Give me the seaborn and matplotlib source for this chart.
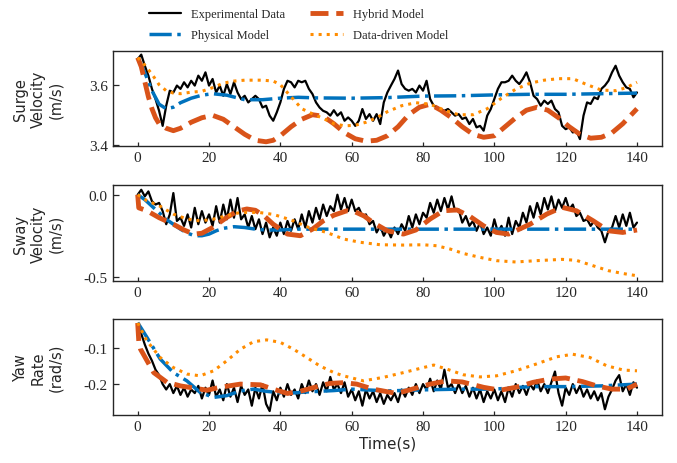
import seaborn as sns
import matplotlib
matplotlib.use("Agg")
import matplotlib.pyplot as plt

# Measured run, one sample per second
time_exp = list(range(0, 141))

surge_exp = [3.685, 3.700, 3.663, 3.630, 3.586, 3.552, 3.513, 3.463, 3.530, 3.580,
             3.574, 3.597, 3.586, 3.608, 3.591, 3.613, 3.597, 3.630, 3.613, 3.641,
             3.597, 3.619, 3.574, 3.597, 3.563, 3.602, 3.569, 3.608, 3.574, 3.552,
             3.563, 3.541, 3.552, 3.563, 3.552, 3.524, 3.530, 3.497, 3.480, 3.508,
             3.541, 3.586, 3.613, 3.608, 3.591, 3.613, 3.608, 3.613, 3.586, 3.569,
             3.541, 3.524, 3.513, 3.508, 3.497, 3.515, 3.497, 3.508, 3.480, 3.491,
             3.480, 3.463, 3.480, 3.519, 3.486, 3.502, 3.480, 3.502, 3.469, 3.541,
             3.574, 3.597, 3.619, 3.647, 3.602, 3.586, 3.580, 3.586, 3.574, 3.597,
             3.580, 3.613, 3.552, 3.530, 3.524, 3.519, 3.513, 3.519, 3.508, 3.497,
             3.502, 3.486, 3.491, 3.469, 3.486, 3.458, 3.463, 3.447, 3.497, 3.519,
             3.552, 3.586, 3.608, 3.608, 3.613, 3.630, 3.613, 3.602, 3.619, 3.641,
             3.608, 3.563, 3.552, 3.530, 3.547, 3.536, 3.547, 3.519, 3.508, 3.463,
             3.452, 3.458, 3.441, 3.447, 3.419, 3.497, 3.541, 3.536, 3.558, 3.552,
             3.586, 3.597, 3.613, 3.641, 3.663, 3.630, 3.608, 3.591, 3.586, 3.558,
             3.574]

sway_exp = [0.0, 0.03, -0.01, 0.02, -0.04, -0.06, -0.05, -0.1, -0.18, -0.12,
            0.01, -0.16, -0.14, -0.19, -0.12, -0.2, -0.08, -0.18, -0.1, -0.17,
            -0.12, -0.19, -0.07, -0.17, -0.06, -0.15, -0.03, -0.14, -0.02, -0.15,
            -0.12, -0.2, -0.13, -0.21, -0.15, -0.24, -0.17, -0.26, -0.2, -0.25,
            -0.17, -0.24, -0.16, -0.22, -0.15, -0.21, -0.12, -0.2, -0.1, -0.17,
            -0.08, -0.15, -0.06, -0.13, -0.07, -0.1, 0.0, -0.09, -0.02, -0.1,
            -0.03, -0.1, -0.08, -0.13, -0.12, -0.18, -0.16, -0.23, -0.19, -0.25,
            -0.21, -0.26, -0.2, -0.24, -0.18, -0.22, -0.13, -0.2, -0.12, -0.18,
            -0.11, -0.14, -0.05, -0.11, -0.03, -0.1, -0.02, -0.09, -0.01, -0.1,
            -0.09, -0.17, -0.13, -0.19, -0.16, -0.22, -0.17, -0.24, -0.2, -0.25,
            -0.15, -0.23, -0.19, -0.25, -0.14, -0.24, -0.16, -0.2, -0.11, -0.17,
            -0.07, -0.14, -0.05, -0.12, -0.02, -0.09, -0.01, -0.1, -0.03, -0.08,
            -0.02, -0.09, -0.06, -0.13, -0.11, -0.16, -0.15, -0.19, -0.16, -0.2,
            -0.22, -0.29, -0.22, -0.2, -0.13, -0.2, -0.12, -0.19, -0.11, -0.2,
            -0.17]

yaw_exp = [-0.035, -0.06, -0.09, -0.115, -0.135, -0.16, -0.175, -0.2, -0.215, -0.2,
           -0.225, -0.205, -0.23, -0.21, -0.235, -0.215, -0.225, -0.205, -0.24, -0.21,
           -0.23, -0.19, -0.235, -0.215, -0.245, -0.2, -0.235, -0.21, -0.25, -0.205,
           -0.23, -0.215, -0.26, -0.21, -0.24, -0.2, -0.255, -0.275, -0.22, -0.245,
           -0.21, -0.235, -0.2, -0.23, -0.215, -0.24, -0.2, -0.225, -0.19, -0.22,
           -0.2, -0.23, -0.195, -0.22, -0.18, -0.215, -0.2, -0.225, -0.195, -0.235,
           -0.215, -0.245, -0.22, -0.26, -0.215, -0.24, -0.22, -0.25, -0.225, -0.255,
           -0.23, -0.245, -0.225, -0.25, -0.215, -0.235, -0.21, -0.23, -0.2, -0.225,
           -0.2, -0.215, -0.185, -0.22, -0.19, -0.215, -0.16, -0.21, -0.2, -0.225,
           -0.2, -0.225, -0.205, -0.235, -0.21, -0.24, -0.215, -0.25, -0.22, -0.24,
           -0.215, -0.245, -0.22, -0.25, -0.21, -0.235, -0.2, -0.225, -0.205, -0.23,
           -0.2, -0.215, -0.19, -0.22, -0.2, -0.225, -0.195, -0.165, -0.225, -0.26,
           -0.21, -0.23, -0.2, -0.225, -0.205, -0.235, -0.215, -0.24, -0.22, -0.245,
           -0.225, -0.27, -0.235, -0.215, -0.19, -0.175, -0.22, -0.2, -0.23, -0.195,
           -0.21]

# Physical model
surge_phys_t = [0, 2, 4, 6, 8, 10, 12, 15, 18, 21, 25, 30, 35, 40, 45, 50, 60, 70,
                80, 90, 100, 110, 120, 130, 140]
surge_phys = [3.69, 3.64, 3.58, 3.535, 3.52, 3.525, 3.54, 3.555, 3.565, 3.57, 3.565,
              3.55, 3.55, 3.555, 3.558, 3.556, 3.555, 3.557, 3.562, 3.563, 3.566,
              3.568, 3.568, 3.57, 3.572]
sway_phys_t = [0, 2, 4, 6, 8, 10, 12, 14, 16, 18, 20, 22, 24, 27, 30, 33, 36, 40, 45,
               50, 60, 80, 100, 120, 140]
sway_phys = [0.0, -0.03, -0.07, -0.11, -0.15, -0.18, -0.21, -0.235, -0.25, -0.25,
             -0.24, -0.22, -0.205, -0.195, -0.2, -0.21, -0.215, -0.215, -0.21, -0.21,
             -0.21, -0.21, -0.21, -0.21, -0.21]
yaw_phys_t = [0, 2.6, 6.3, 10, 13.8, 17.5, 21.3, 25, 28.8, 32.5, 36, 41.8, 47, 55,
              60, 70, 80, 90, 100, 110, 120, 130, 140]
yaw_phys = [-0.029, -0.07, -0.13, -0.168, -0.191, -0.223, -0.237, -0.232, -0.219,
            -0.214, -0.22, -0.226, -0.222, -0.218, -0.214, -0.219, -0.216, -0.214,
            -0.214, -0.207, -0.207, -0.205, -0.2]

# Hybrid model
surge_hyb_t = [0, 1, 2, 3, 4, 5, 6, 8, 10, 12, 15, 18, 21, 24, 27, 30, 33, 36, 38,
               40, 43, 46, 49, 52, 55, 58, 61, 64, 67, 70, 73, 76, 79, 82, 85, 88,
               91, 94, 97, 100, 103, 106, 109, 112, 115, 118, 121, 124, 127, 130,
               133, 136, 140]
surge_hyb = [3.69, 3.66, 3.61, 3.56, 3.52, 3.49, 3.47, 3.455, 3.447, 3.455, 3.475,
             3.49, 3.498, 3.485, 3.46, 3.435, 3.415, 3.41, 3.415, 3.43, 3.46, 3.485,
             3.5, 3.495, 3.47, 3.44, 3.42, 3.412, 3.415, 3.43, 3.46, 3.5, 3.525,
             3.535, 3.515, 3.49, 3.46, 3.435, 3.425, 3.43, 3.46, 3.49, 3.515, 3.525,
             3.515, 3.49, 3.46, 3.435, 3.422, 3.425, 3.44, 3.47, 3.52]
sway_hyb_t = [0, 0.3, 2.6, 6, 10, 13, 15.7, 18, 21, 25, 28, 30.6, 33, 35.5, 38, 42,
              45.6, 49, 52, 55, 58.6, 61, 63.5, 66, 70, 74.5, 78, 82, 85.7, 89.5, 93,
              97, 100.6, 104, 107, 110, 114.7, 119, 123, 127.7, 132, 136, 140]
sway_hyb = [0.0, -0.08, -0.098, -0.14, -0.18, -0.215, -0.24, -0.235, -0.2, -0.138,
            -0.1, -0.087, -0.095, -0.13, -0.18, -0.24, -0.25, -0.21, -0.16, -0.125,
            -0.098, -0.105, -0.13, -0.17, -0.22, -0.24, -0.215, -0.148, -0.098,
            -0.093, -0.13, -0.19, -0.23, -0.24, -0.21, -0.18, -0.118, -0.077, -0.098,
            -0.159, -0.22, -0.23, -0.215]
yaw_hyb_t = [0, 0.3, 0.8, 4.5, 8.2, 12, 15.7, 19.4, 23, 28.8, 34.4, 38, 42, 45.6, 51,
             54, 57.7, 61.4, 66, 72.6, 77, 82, 86.6, 91, 97, 101.6, 106, 110.9, 115.6,
             120, 124.7, 128.7, 133, 137, 140]
yaw_hyb = [-0.03, -0.08, -0.103, -0.168, -0.195, -0.205, -0.211, -0.217, -0.209, -0.2,
           -0.202, -0.214, -0.226, -0.22, -0.205, -0.198, -0.196, -0.2, -0.214, -0.226,
           -0.214, -0.2, -0.191, -0.194, -0.209, -0.217, -0.209, -0.195, -0.186,
           -0.183, -0.193, -0.205, -0.214, -0.214, -0.2]

# Data-driven model
surge_dd_t = [0, 2, 4, 6, 8, 10, 12, 15, 18, 21, 24, 27, 30, 35, 38, 40, 43, 46, 49,
              52, 55, 58, 61, 64, 67, 70, 74, 78, 82, 86, 90, 94, 98, 102, 106, 110,
              114, 118, 122, 126, 130, 134, 137, 140]
surge_dd = [3.69, 3.665, 3.635, 3.6, 3.58, 3.572, 3.57, 3.575, 3.578, 3.59, 3.605,
            3.612, 3.615, 3.615, 3.612, 3.6, 3.56, 3.52, 3.503, 3.488, 3.47, 3.463,
            3.465, 3.475, 3.49, 3.51, 3.53, 3.54, 3.535, 3.515, 3.5, 3.5, 3.52, 3.555,
            3.585, 3.605, 3.615, 3.62, 3.62, 3.6, 3.582, 3.58, 3.59, 3.608]
sway_dd_t = [0, 2.6, 6, 10, 13.8, 17.5, 21, 25, 28.8, 34, 38, 41, 43.7, 48, 53, 57.7,
             62.4, 68, 74.5, 80, 83.8, 87.6, 91.3, 96, 100.6, 106, 111.8, 119, 123,
             127.7, 132, 136, 140]
sway_dd = [0.0, -0.037, -0.067, -0.118, -0.148, -0.16, -0.15, -0.128, -0.108, -0.108,
           -0.12, -0.14, -0.16, -0.2, -0.23, -0.27, -0.29, -0.305, -0.307, -0.305,
           -0.311, -0.331, -0.358, -0.382, -0.402, -0.41, -0.402, -0.394, -0.4,
           -0.433, -0.463, -0.48, -0.494]
yaw_dd_t = [0, 2.6, 6.3, 10, 13.8, 17.5, 21.3, 25, 28.8, 32.5, 36.2, 40, 43.7, 47.4,
            51, 55, 57.7, 63.3, 69, 74.5, 80.1, 83, 86.6, 91.3, 96, 100.6, 106, 111.8,
            117.5, 122, 126.8, 131.5, 136.2, 140]
yaw_dd = [-0.03, -0.08, -0.126, -0.154, -0.172, -0.177, -0.163, -0.135, -0.103,
          -0.082, -0.077, -0.084, -0.103, -0.126, -0.149, -0.168, -0.177, -0.191,
          -0.181, -0.168, -0.154, -0.147, -0.158, -0.174, -0.18, -0.177, -0.163,
          -0.144, -0.124, -0.117, -0.126, -0.149, -0.161, -0.163]

labels = ['Experimental Data', 'Physical Model', 'Hybrid Model', 'Data-driven Model']
ylabels = ['Surge\nVelocity\n(m/s)', 'Sway\nVelocity\n(m/s)', 'Yaw\nRate\n(rad/s)']
yticks = [[3.4, 3.6], [-0.5, 0.0], [-0.2, -0.1]]
ylims = [(3.396, 3.712), (-0.526, 0.059), (-0.286, -0.019)]

panels = [
    [(time_exp, surge_exp), (surge_phys_t, surge_phys), (surge_hyb_t, surge_hyb), (surge_dd_t, surge_dd)],
    [(time_exp, sway_exp), (sway_phys_t, sway_phys), (sway_hyb_t, sway_hyb), (sway_dd_t, sway_dd)],
    [(time_exp, yaw_exp), (yaw_phys_t, yaw_phys), (yaw_hyb_t, yaw_hyb), (yaw_dd_t, yaw_dd)],
]

# Styling
sns.set_style('ticks', {'axes.edgecolor': '.15'})
plt.rcParams['font.family'] = ['Liberation Serif', 'DejaVu Serif']
plt.rcParams['axes.unicode_minus'] = False

styles = [
    dict(color='black', linewidth=1.6, linestyle='-'),
    dict(color='#0072BD', linewidth=2.5, linestyle='-.'),
    dict(color='#D95319', linewidth=3.5, linestyle='--'),
    dict(color='#FF8C00', linewidth=2.2, linestyle=':'),
]

fig = plt.figure(figsize=(6.77, 4.64), dpi=100)
rects = [[0.1665, 0.6832, 0.8113, 0.2047],
         [0.1665, 0.3922, 0.8113, 0.2069],
         [0.1665, 0.1034, 0.8113, 0.2069]]

axes = []
for i, rect in enumerate(rects):
    ax = fig.add_axes(rect)
    for (t, y), lab, st in zip(panels[i], labels, styles):
        sns.lineplot(x=t, y=y, ax=ax, estimator=None, sort=False, legend=False,
                     label=lab, **st)
    ax.set_xlim(-7, 147)
    ax.set_ylim(*ylims[i])
    ax.set_xticks([0, 20, 40, 60, 80, 100, 120, 140])
    ax.set_yticks(yticks[i])
    ax.tick_params(direction='in', width=0.9, labelsize=11, pad=3.5)
    ax.tick_params(axis='y', length=4)
    ax.tick_params(axis='x', length=3)
    for sp in ax.spines.values():
        sp.set_linewidth(1.0)
    ax.set_ylabel(ylabels[i], fontfamily='DejaVu Sans', fontsize=10.5)
    ax.yaxis.set_label_coords(-0.09, 0.5)
    ax.set_xlabel('')
    axes.append(ax)

axes[-1].set_xlabel('Time(s)', fontfamily='DejaVu Sans', fontsize=11, labelpad=2)

handles, labs = axes[0].get_legend_handles_labels()
fig.legend(handles, labs, ncol=2, loc='upper left', bbox_to_anchor=(0.203, 1.005),
           frameon=False, fontsize=9, handlelength=2.6, handletextpad=0.8,
           columnspacing=2.0, labelspacing=0.75)

fig.savefig('out.png', dpi=100)
